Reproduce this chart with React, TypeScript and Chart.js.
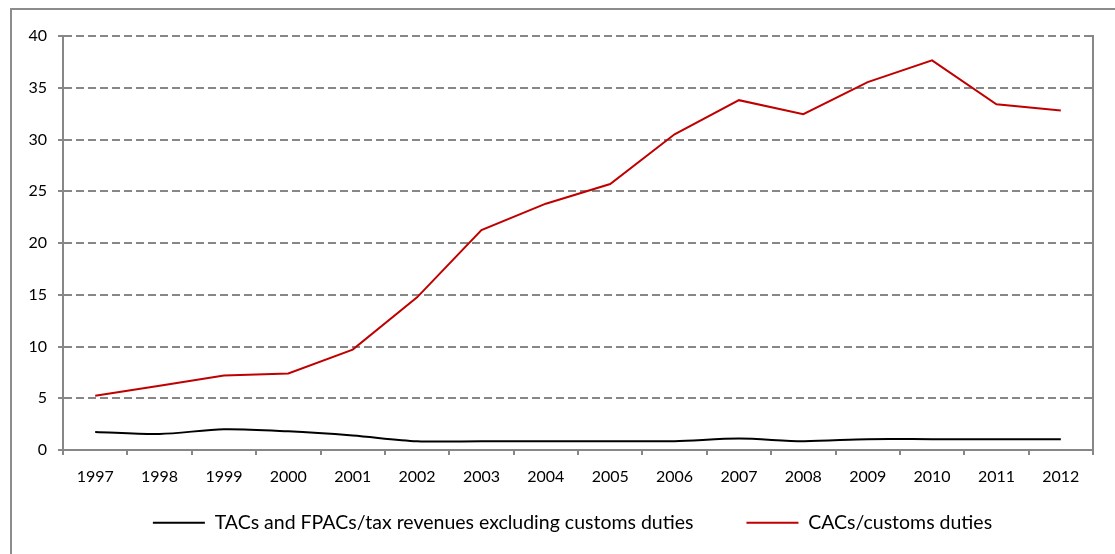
import React, { useEffect, useRef } from "react";
import { Chart, registerables } from "chart.js";

Chart.register(...registerables);

const years = ["1997", "1998", "1999", "2000", "2001", "2002", "2003", "2004", "2005", "2006", "2007", "2008", "2009", "2010", "2011", "2012"];
const tacsFpacs = [1.75, 1.55, 2.0, 1.8, 1.4, 0.85, 0.85, 0.85, 0.85, 0.85, 1.1, 0.85, 1.05, 1.05, 1.05, 1.05];
const cacs = [5.25, 6.2, 7.2, 7.4, 9.7, 14.75, 21.25, 23.8, 25.7, 30.5, 33.8, 32.45, 35.55, 37.65, 33.4, 32.8];
const seriesNames = ["TACs and FPACs/tax revenues excluding customs duties", "CACs/customs duties"];

const GRID = "#878787";
const DASH = [8, 4];
const FONT = "Lato, 'Noto Sans', sans-serif";

// give the x-axis labels room below the short axis box, and nudge the legend's centre
const layoutTweaks = {
  id: "layoutTweaks",
  afterLayout(chart: any) {
    const x = chart.scales.x;
    if (x) x.bottom = x.top + 45;
    if (chart.legend) chart.legend.left -= 11;
  },
};

export default function App() {
  const ref = useRef<HTMLCanvasElement | null>(null);

  useEffect(() => {
    document.body.style.margin = "0";
    const canvas = ref.current;
    if (!canvas) return;
    const chart = new Chart(canvas, {
      type: "line",
      data: {
        labels: years,
        datasets: [
          {
            label: seriesNames[0],
            data: tacsFpacs,
            borderColor: "#000000",
            backgroundColor: "#000000",
            borderWidth: 2,
            pointRadius: 0,
            tension: 0.3,
          },
          {
            label: seriesNames[1],
            data: cacs,
            borderColor: "#C00000",
            backgroundColor: "#C00000",
            borderWidth: 2,
            pointRadius: 0,
            tension: 0,
          },
        ],
      },
      plugins: [layoutTweaks],
      options: {
        responsive: false,
        animation: false,
        devicePixelRatio: 1,
        layout: { padding: { top: 26, right: 22, left: 0, bottom: 11.5 } },
        plugins: {
          tooltip: { enabled: false },
          legend: {
            position: "bottom",
            fullSize: false,
            labels: {
              boxWidth: 52,
              boxHeight: 2,
              padding: 53,
              color: "#000000",
              font: { family: FONT, size: 19.5 },
              generateLabels: (c: any) =>
                Chart.defaults.plugins.legend.labels
                  .generateLabels(c)
                  .map((l: any) => ({ ...l, lineWidth: 0 })),
            },
          },
        },
        scales: {
          x: {
            offset: true,
            grid: {
              offset: true,
              drawOnChartArea: false,
              drawTicks: true,
              tickLength: 5,
              color: GRID,
              lineWidth: 2,
            },
            border: { display: true, color: GRID, width: 2, dash: DASH },
            ticks: {
              color: "#000000",
              padding: 12,
              maxRotation: 0,
              autoSkip: false,
              font: { family: FONT, size: 16 },
            },
            afterFit: (s: any) => {
              s.height = 10;
            },
          },
          y: {
            min: 0,
            max: 40,
            ticks: {
              stepSize: 5,
              color: "#000000",
              padding: 11,
              font: { family: FONT, size: 16 },
            },
            grid: {
              color: GRID,
              lineWidth: 2,
              tickLength: 5,
            },
            border: { display: true, color: GRID, width: 2, dash: DASH },
            afterFit: (s: any) => {
              s.width = 51;
            },
          },
          y2: {
            position: "right",
            min: 0,
            max: 40,
            ticks: { display: false },
            grid: { display: false, drawOnChartArea: false, drawTicks: false },
            border: { display: true, color: GRID, width: 2, dash: DASH },
            afterFit: (s: any) => {
              s.width = 0;
            },
          },
        },
      },
    } as any);
    return () => chart.destroy();
  }, []);

  return (
    <div
      style={{
        position: "fixed",
        left: 10,
        top: 8,
        width: 1105,
        height: 546,
        boxSizing: "border-box",
        borderLeft: "2px solid #8c8c8c",
        borderTop: "2px solid #8c8c8c",
        background: "#ffffff",
      }}
    >
      <canvas ref={ref} width={1103} height={544} style={{ display: "block" }} />
    </div>
  );
}
